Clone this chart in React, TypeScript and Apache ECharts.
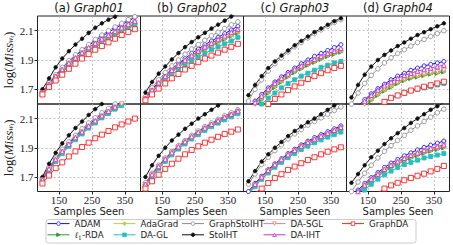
import React, { useEffect, useRef } from 'react';
import * as echarts from 'echarts';

const SAMPLES = [100, 120, 140, 160, 180, 200, 220, 240, 260, 280, 300, 320, 340, 360, 380];
const X_TICKS = [150, 250, 350];
const Y_TICKS = [1.7, 1.9, 2.1];
const METHODS = ['ADAM', 'ℓ1-RDA', 'AdaGrad', 'DA-GL', 'GraphStoIHT', 'StoIHT', 'DA-SGL', 'DA-IHT', 'GraphDA'];
const LETTERS = ['(a)', '(b)', '(c)', '(d)'];
const GRAPHS = ['Graph01', 'Graph02', 'Graph03', 'Graph04'];

// ---- top row ----
const TOP_G01: Record<string, number[]> = {
  ADAM: [1.68, 1.74, 1.795, 1.845, 1.89, 1.93, 1.965, 2.0, 2.03, 2.06, 2.09, 2.115, 2.14, 2.165, 2.19],
  'ℓ1-RDA': [1.67, 1.725, 1.778, 1.822, 1.865, 1.9, 1.935, 1.965, 1.995, 2.025, 2.05, 2.075, 2.1, 2.125, 2.145],
  AdaGrad: [1.672, 1.728, 1.78, 1.825, 1.87, 1.905, 1.94, 1.97, 2.0, 2.03, 2.055, 2.08, 2.105, 2.13, 2.15],
  'DA-GL': [1.67, 1.72, 1.77, 1.815, 1.855, 1.89, 1.925, 1.955, 1.985, 2.015, 2.04, 2.065, 2.09, 2.115, 2.14],
  GraphStoIHT: [1.685, 1.745, 1.8, 1.85, 1.895, 1.935, 1.97, 2.005, 2.04, 2.07, 2.1, 2.125, 2.15, 2.175, 2.195],
  StoIHT: [1.7, 1.775, 1.85, 1.91, 1.96, 2.005, 2.045, 2.085, 2.12, 2.15, 2.175, 2.195, 2.22, 2.24, 2.26],
  'DA-SGL': [1.675, 1.73, 1.785, 1.83, 1.875, 1.91, 1.945, 1.975, 2.005, 2.035, 2.06, 2.085, 2.11, 2.135, 2.155],
  'DA-IHT': [1.675, 1.735, 1.79, 1.835, 1.88, 1.915, 1.95, 1.985, 2.015, 2.045, 2.07, 2.095, 2.12, 2.145, 2.165],
  GraphDA: [1.665, 1.715, 1.76, 1.8, 1.84, 1.875, 1.91, 1.94, 1.97, 1.995, 2.02, 2.045, 2.07, 2.09, 2.11],
};
const TOP_G02: Record<string, number[]> = {
  ADAM: [1.645, 1.7, 1.75, 1.795, 1.84, 1.875, 1.91, 1.945, 1.975, 2.005, 2.03, 2.055, 2.08, 2.105, 2.13],
  'ℓ1-RDA': [1.63, 1.683, 1.733, 1.776, 1.815, 1.85, 1.883, 1.913, 1.942, 1.97, 1.995, 2.019, 2.042, 2.064, 2.085],
  AdaGrad: [1.632, 1.686, 1.736, 1.779, 1.818, 1.853, 1.886, 1.916, 1.945, 1.973, 1.998, 2.022, 2.045, 2.067, 2.09],
  'DA-GL': [1.63, 1.68, 1.725, 1.765, 1.8, 1.835, 1.865, 1.895, 1.92, 1.945, 1.97, 1.99, 2.01, 2.03, 2.055],
  GraphStoIHT: [1.65, 1.71, 1.765, 1.815, 1.86, 1.9, 1.94, 1.975, 2.005, 2.035, 2.065, 2.09, 2.115, 2.14, 2.16],
  StoIHT: [1.678, 1.75, 1.807, 1.856, 1.904, 1.947, 1.988, 2.022, 2.055, 2.085, 2.114, 2.141, 2.168, 2.196, 2.22],
  'DA-SGL': [1.635, 1.69, 1.74, 1.783, 1.822, 1.857, 1.89, 1.92, 1.95, 1.978, 2.003, 2.028, 2.05, 2.072, 2.095],
  'DA-IHT': [1.64, 1.695, 1.745, 1.79, 1.83, 1.865, 1.9, 1.93, 1.96, 1.99, 2.015, 2.04, 2.065, 2.09, 2.11],
  GraphDA: [1.625, 1.665, 1.705, 1.74, 1.775, 1.805, 1.835, 1.86, 1.885, 1.91, 1.93, 1.95, 1.97, 1.99, 2.01],
};
const TOP_G03: Record<string, number[]> = {
  ADAM: [1.57, 1.62, 1.665, 1.71, 1.75, 1.785, 1.815, 1.845, 1.875, 1.9, 1.925, 1.945, 1.965, 1.985, 2.005],
  'ℓ1-RDA': [1.535, 1.585, 1.63, 1.675, 1.715, 1.75, 1.785, 1.815, 1.84, 1.865, 1.885, 1.905, 1.925, 1.94, 1.955],
  AdaGrad: [1.54, 1.59, 1.635, 1.68, 1.72, 1.755, 1.79, 1.82, 1.845, 1.87, 1.89, 1.91, 1.93, 1.945, 1.96],
  'DA-GL': [1.5, 1.55, 1.6, 1.64, 1.675, 1.71, 1.74, 1.765, 1.79, 1.81, 1.83, 1.85, 1.865, 1.88, 1.89],
  GraphStoIHT: [1.62, 1.7, 1.765, 1.825, 1.875, 1.915, 1.955, 1.99, 2.02, 2.05, 2.08, 2.105, 2.13, 2.155, 2.175],
  StoIHT: [1.66, 1.73, 1.79, 1.845, 1.89, 1.93, 1.965, 2.0, 2.03, 2.06, 2.09, 2.115, 2.14, 2.165, 2.185],
  'DA-SGL': [1.55, 1.6, 1.645, 1.69, 1.73, 1.765, 1.795, 1.825, 1.85, 1.875, 1.895, 1.915, 1.935, 1.95, 1.965],
  'DA-IHT': [1.56, 1.61, 1.655, 1.7, 1.74, 1.775, 1.805, 1.835, 1.86, 1.885, 1.905, 1.925, 1.945, 1.96, 1.98],
  GraphDA: [1.48, 1.52, 1.56, 1.6, 1.635, 1.665, 1.695, 1.72, 1.745, 1.77, 1.79, 1.81, 1.83, 1.845, 1.86],
};
const TOP_G04: Record<string, number[]> = {
  ADAM: [1.53, 1.585, 1.63, 1.67, 1.705, 1.735, 1.765, 1.79, 1.81, 1.83, 1.845, 1.86, 1.87, 1.88, 1.89],
  'ℓ1-RDA': [1.485, 1.54, 1.585, 1.625, 1.66, 1.69, 1.715, 1.74, 1.76, 1.775, 1.785, 1.795, 1.805, 1.81, 1.82],
  AdaGrad: [1.49, 1.545, 1.59, 1.63, 1.665, 1.695, 1.72, 1.745, 1.765, 1.78, 1.79, 1.8, 1.81, 1.815, 1.825],
  'DA-GL': [1.4, 1.46, 1.51, 1.55, 1.585, 1.615, 1.64, 1.66, 1.675, 1.69, 1.7, 1.71, 1.72, 1.73, 1.74],
  GraphStoIHT: [1.6, 1.675, 1.74, 1.795, 1.84, 1.88, 1.915, 1.945, 1.97, 1.995, 2.02, 2.04, 2.06, 2.08, 2.1],
  StoIHT: [1.645, 1.73, 1.8, 1.855, 1.9, 1.935, 1.965, 1.995, 2.02, 2.045, 2.07, 2.09, 2.11, 2.13, 2.15],
  'DA-SGL': [1.5, 1.555, 1.6, 1.64, 1.675, 1.705, 1.73, 1.75, 1.77, 1.785, 1.795, 1.805, 1.815, 1.82, 1.83],
  'DA-IHT': [1.52, 1.575, 1.62, 1.66, 1.695, 1.725, 1.75, 1.775, 1.795, 1.81, 1.825, 1.835, 1.845, 1.855, 1.865],
  GraphDA: [1.45, 1.49, 1.525, 1.555, 1.585, 1.615, 1.642, 1.658, 1.676, 1.692, 1.705, 1.718, 1.728, 1.74, 1.752],
};

// ---- bottom row ----
const BOT_G01: Record<string, number[]> = {
  ADAM: [1.685, 1.76, 1.825, 1.88, 1.93, 1.975, 2.02, 2.06, 2.095, 2.13, 2.16, 2.19, 2.215, 2.24, 2.26],
  'ℓ1-RDA': [1.673, 1.747, 1.807, 1.862, 1.912, 1.957, 1.997, 2.037, 2.072, 2.107, 2.137, 2.167, 2.192, 2.217, 2.237],
  AdaGrad: [1.675, 1.75, 1.81, 1.865, 1.915, 1.96, 2.0, 2.04, 2.075, 2.11, 2.14, 2.17, 2.195, 2.22, 2.24],
  'DA-GL': [1.672, 1.745, 1.805, 1.86, 1.91, 1.955, 1.995, 2.035, 2.07, 2.105, 2.135, 2.165, 2.19, 2.215, 2.235],
  GraphStoIHT: [1.69, 1.765, 1.83, 1.89, 1.94, 1.985, 2.03, 2.07, 2.105, 2.14, 2.17, 2.2, 2.225, 2.25, 2.27],
  StoIHT: [1.7, 1.79, 1.865, 1.93, 1.985, 2.035, 2.08, 2.125, 2.165, 2.2, 2.235, 2.265, 2.29, 2.315, 2.34],
  'DA-SGL': [1.678, 1.752, 1.815, 1.87, 1.92, 1.965, 2.005, 2.045, 2.08, 2.115, 2.145, 2.175, 2.2, 2.225, 2.245],
  'DA-IHT': [1.68, 1.755, 1.82, 1.875, 1.925, 1.97, 2.01, 2.05, 2.085, 2.12, 2.15, 2.18, 2.205, 2.23, 2.25],
  GraphDA: [1.655, 1.71, 1.76, 1.8, 1.84, 1.875, 1.905, 1.935, 1.965, 1.99, 2.015, 2.04, 2.06, 2.08, 2.1],
};
const BOT_G02: Record<string, number[]> = {
  ADAM: [1.655, 1.72, 1.776, 1.826, 1.871, 1.911, 1.946, 1.981, 2.011, 2.041, 2.066, 2.091, 2.116, 2.136, 2.158],
  'ℓ1-RDA': [1.638, 1.705, 1.761, 1.811, 1.856, 1.896, 1.931, 1.965, 1.995, 2.024, 2.049, 2.074, 2.097, 2.117, 2.139],
  AdaGrad: [1.64, 1.708, 1.764, 1.814, 1.859, 1.899, 1.934, 1.968, 1.998, 2.027, 2.052, 2.077, 2.1, 2.12, 2.142],
  'DA-GL': [1.635, 1.7, 1.756, 1.806, 1.851, 1.891, 1.926, 1.96, 1.99, 2.019, 2.044, 2.069, 2.092, 2.112, 2.134],
  GraphStoIHT: [1.66, 1.725, 1.78, 1.83, 1.875, 1.915, 1.95, 1.985, 2.015, 2.045, 2.07, 2.095, 2.12, 2.14, 2.16],
  StoIHT: [1.7, 1.78, 1.845, 1.9, 1.95, 1.99, 2.03, 2.065, 2.1, 2.13, 2.16, 2.19, 2.215, 2.24, 2.265],
  'DA-SGL': [1.645, 1.712, 1.768, 1.818, 1.863, 1.903, 1.938, 1.972, 2.002, 2.031, 2.056, 2.081, 2.105, 2.125, 2.147],
  'DA-IHT': [1.65, 1.716, 1.772, 1.822, 1.867, 1.907, 1.942, 1.977, 2.007, 2.036, 2.061, 2.086, 2.11, 2.13, 2.152],
  GraphDA: [1.62, 1.67, 1.715, 1.755, 1.79, 1.825, 1.855, 1.885, 1.91, 1.935, 1.955, 1.975, 1.995, 2.01, 2.025],
};
const BOT_G03: Record<string, number[]> = {
  ADAM: [1.6, 1.655, 1.705, 1.75, 1.79, 1.825, 1.86, 1.89, 1.92, 1.945, 1.97, 1.99, 2.01, 2.03, 2.05],
  'ℓ1-RDA': [1.583, 1.638, 1.688, 1.733, 1.773, 1.808, 1.84, 1.87, 1.898, 1.923, 1.946, 1.966, 1.986, 2.005, 2.024],
  AdaGrad: [1.585, 1.64, 1.69, 1.735, 1.775, 1.81, 1.843, 1.873, 1.901, 1.926, 1.949, 1.969, 1.989, 2.008, 2.027],
  'DA-GL': [1.58, 1.633, 1.683, 1.727, 1.766, 1.8, 1.832, 1.861, 1.888, 1.912, 1.934, 1.954, 1.973, 1.99, 2.008],
  GraphStoIHT: [1.65, 1.72, 1.785, 1.835, 1.88, 1.92, 1.96, 1.995, 2.025, 2.055, 2.08, 2.105, 2.13, 2.155, 2.18],
  StoIHT: [1.67, 1.74, 1.805, 1.855, 1.9, 1.94, 1.98, 2.015, 2.045, 2.075, 2.1, 2.13, 2.16, 2.19, 2.215],
  'DA-SGL': [1.59, 1.645, 1.695, 1.74, 1.78, 1.815, 1.848, 1.878, 1.906, 1.931, 1.954, 1.974, 1.994, 2.013, 2.032],
  'DA-IHT': [1.595, 1.65, 1.7, 1.745, 1.785, 1.82, 1.853, 1.883, 1.912, 1.937, 1.96, 1.98, 2.0, 2.02, 2.04],
  GraphDA: [1.55, 1.59, 1.62, 1.658, 1.692, 1.719, 1.748, 1.771, 1.794, 1.816, 1.835, 1.855, 1.873, 1.889, 1.903],
};
const BOT_G04: Record<string, number[]> = {
  ADAM: [1.56, 1.61, 1.655, 1.695, 1.73, 1.765, 1.795, 1.82, 1.845, 1.865, 1.885, 1.903, 1.918, 1.932, 1.946],
  'ℓ1-RDA': [1.535, 1.585, 1.63, 1.67, 1.705, 1.736, 1.764, 1.788, 1.81, 1.83, 1.847, 1.863, 1.877, 1.889, 1.901],
  AdaGrad: [1.54, 1.59, 1.635, 1.675, 1.71, 1.741, 1.769, 1.793, 1.815, 1.835, 1.852, 1.868, 1.882, 1.894, 1.906],
  'DA-GL': [1.5, 1.56, 1.61, 1.65, 1.685, 1.715, 1.74, 1.765, 1.785, 1.8, 1.815, 1.83, 1.84, 1.85, 1.86],
  GraphStoIHT: [1.6, 1.665, 1.725, 1.78, 1.83, 1.875, 1.915, 1.95, 1.985, 2.02, 2.05, 2.08, 2.11, 2.14, 2.165],
  StoIHT: [1.66, 1.72, 1.78, 1.835, 1.88, 1.925, 1.965, 2.0, 2.035, 2.07, 2.1, 2.13, 2.16, 2.185, 2.21],
  'DA-SGL': [1.545, 1.595, 1.64, 1.68, 1.715, 1.746, 1.774, 1.799, 1.821, 1.841, 1.859, 1.875, 1.889, 1.901, 1.913],
  'DA-IHT': [1.55, 1.6, 1.645, 1.685, 1.72, 1.752, 1.78, 1.805, 1.828, 1.848, 1.866, 1.882, 1.896, 1.908, 1.92],
  GraphDA: [1.43, 1.48, 1.52, 1.555, 1.59, 1.62, 1.642, 1.66, 1.677, 1.693, 1.708, 1.722, 1.738, 1.755, 1.775],
};

const PANELS = [TOP_G01, TOP_G02, TOP_G03, TOP_G04, BOT_G01, BOT_G02, BOT_G03, BOT_G04];

type Sty = { color: string; symbol: string; size: number; open: boolean; rotate?: number };
const STYLES: Record<string, Sty> = {
  ADAM: { color: '#0a0aff', symbol: 'circle', size: 4, open: true },
  'ℓ1-RDA': { color: '#2e9a2e', symbol: 'triangle', size: 4.5, open: false, rotate: -90 },
  AdaGrad: { color: '#c9c935', symbol: 'diamond', size: 4, open: false },
  'DA-GL': { color: '#22c0c0', symbol: 'rect', size: 4, open: false },
  GraphStoIHT: { color: '#8c8c8c', symbol: 'circle', size: 4.5, open: true },
  StoIHT: { color: '#111111', symbol: 'circle', size: 3.5, open: false },
  'DA-SGL': { color: '#e88080', symbol: 'triangle', size: 4.5, open: true, rotate: 180 },
  'DA-IHT': { color: '#d030d0', symbol: 'triangle', size: 4.5, open: true },
  GraphDA: { color: '#ff2020', symbol: 'rect', size: 5, open: true },
};

const LEFTS = [37.5, 140.5, 243.5, 346.5];
const PW = 103;
const TOPS = [16, 104];
const PH = [88, 87.5];

const SERIF = 'Liberation Serif';
const SANS = 'DejaVu Sans';

export default function App() {
  const ref = useRef<HTMLDivElement>(null);
  useEffect(() => {
    document.body.style.margin = '0';
    if (!ref.current) return;
    const chart = echarts.init(ref.current, undefined, { renderer: 'svg' });

    const grids: any[] = [];
    const xAxes: any[] = [];
    const yAxes: any[] = [];
    const series: any[] = [];
    for (let r = 0; r < 2; r++) {
      for (let c = 0; c < 4; c++) {
        const k = r * 4 + c;
        grids.push({
          left: LEFTS[c], top: TOPS[r], width: PW, height: PH[r],
          show: true, borderColor: '#222', borderWidth: 1, backgroundColor: 'transparent',
        });
        xAxes.push({
          type: 'value', gridIndex: k, min: 85, max: 397,
          axisLine: { show: false },
          axisTick: { show: r === 1, customValues: X_TICKS, length: 3, lineStyle: { color: '#222' } },
          axisLabel: { show: r === 1, customValues: X_TICKS, fontFamily: SERIF, fontSize: 11, color: '#222', margin: 3 },
          splitLine: { show: true, lineStyle: { color: '#b5b5b5', type: [2, 2], width: 0.8 } },
          name: r === 1 ? 'Samples Seen' : '',
          nameLocation: 'middle', nameGap: 14,
          nameTextStyle: { fontFamily: SANS, fontSize: 10, color: '#222' },
        });
        yAxes.push({
          type: 'value', gridIndex: k, min: 1.6, max: 2.2,
          axisLine: { show: false },
          axisTick: { show: c === 0, customValues: Y_TICKS, length: 3, lineStyle: { color: '#222' } },
          axisLabel: { show: c === 0, customValues: Y_TICKS, fontFamily: SERIF, fontSize: 11, color: '#222', margin: 4,
            formatter: (v: number) => v.toFixed(1) },
          splitLine: { show: true, lineStyle: { color: '#b5b5b5', type: [2, 2], width: 0.8 } },
          name: c === 0 ? '{r|log(}{i|Miss}{s|w}{t|t}{r|)}' : '',
          nameLocation: 'middle', nameRotate: 90, nameGap: 23,
          nameTextStyle: {
            color: '#222',
            rich: {
              r: { fontFamily: SERIF, fontSize: 13, color: '#222' },
              i: { fontFamily: SERIF, fontSize: 13, fontStyle: 'italic', color: '#222' },
              s: { fontFamily: SERIF, fontSize: 8, fontStyle: 'italic', color: '#222', verticalAlign: 'bottom', lineHeight: 8 },
              t: { fontFamily: SERIF, fontSize: 6, fontStyle: 'italic', color: '#222', verticalAlign: 'bottom', lineHeight: 4 },
            },
          },
        });
        const panel = PANELS[k];
        METHODS.forEach((m) => {
          const st = STYLES[m];
          series.push({
            type: 'line', name: m, xAxisIndex: k, yAxisIndex: k,
            data: SAMPLES.map((x, i) => [x, panel[m][i]]),
            symbol: st.symbol, symbolSize: st.size, symbolRotate: st.rotate || 0,
            showAllSymbol: true, clip: true,
            lineStyle: { color: st.color, width: 1 },
            itemStyle: { color: st.open ? '#ffffff' : st.color, borderColor: st.color, borderWidth: 0.9 },
            emphasis: { disabled: true },
          });
        });
      }
    }

    const LEGEND_COLS = [['ADAM', 'ℓ1-RDA'], ['AdaGrad', 'DA-GL'], ['GraphStoIHT', 'StoIHT'], ['DA-SGL', 'DA-IHT'], ['GraphDA']];
    const LEGEND_LEFTS = [47, 113, 181.5, 263, 341.5];
    const legends = LEGEND_COLS.map((names, i) => ({
      orient: 'vertical', left: LEGEND_LEFTS[i], top: 218, padding: 0, itemGap: 0,
      itemWidth: 22, itemHeight: 4.5, selectedMode: false,
      itemStyle: { borderWidth: 0.8 },
      lineStyle: { width: 1 },
      data: names,
      formatter: (n: string) => (n === 'ℓ1-RDA' ? '{l|ℓ}{u|1}{n|-RDA}' : n),
      textStyle: {
        fontFamily: SANS, fontSize: 8.7, color: '#222', lineHeight: 11.2,
        rich: {
          l: { fontFamily: 'DejaVu Serif', fontStyle: 'italic', fontSize: 8.7, color: '#222' },
          u: { fontFamily: 'DejaVu Serif', fontSize: 6, color: '#222', verticalAlign: 'bottom', lineHeight: 8.5 },
          n: { fontFamily: SANS, fontSize: 8.7, color: '#222' },
        },
      },
    }));

    const titles = LETTERS.map((l, c) => ({
      type: 'text', x: LEFTS[c] + PW / 2, y: 7.5,
      style: {
        text: `{a|${l}} {g|${GRAPHS[c]}}`,
        align: 'center', verticalAlign: 'middle',
        rich: {
          a: { fontFamily: SANS, fontSize: 11.5, fill: '#111' },
          g: { fontFamily: SANS, fontSize: 11.5, fontStyle: 'italic', fill: '#111' },
        },
        fontFamily: SANS, fontSize: 11.5, fill: '#111',
      },
    }));

    chart.setOption({
      animation: false,
      backgroundColor: '#ffffff',
      grid: grids,
      xAxis: xAxes,
      yAxis: yAxes,
      series,
      legend: legends,
      graphic: [
        { type: 'rect', shape: { x: 46, y: 219.5, width: 370, height: 23.5, r: 2.5 },
          style: { fill: 'none', stroke: '#cccccc', lineWidth: 1 }, z: 0 },
        ...titles,
      ],
    });
    return () => chart.dispose();
  }, []);
  return <div ref={ref} style={{ width: 453, height: 245 }} />;
}
